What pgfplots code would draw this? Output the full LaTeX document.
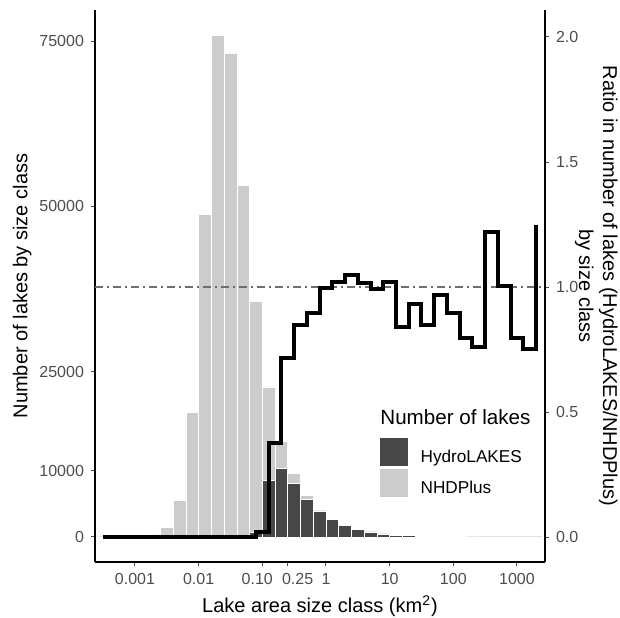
\documentclass[border=0pt]{standalone}
\usepackage{pgfplots}
\usepackage{pgfplotstable}
\pgfplotsset{compat=1.18}
\usepackage{fontspec}
\setmainfont{Liberation Sans}
\definecolor{hydro}{HTML}{474747}
\definecolor{nhd}{HTML}{CCCCCC}
\definecolor{tickgray}{HTML}{4D4D4D}
\definecolor{refline}{HTML}{6E6E6E}

\pgfplotstableread{
logarea nhd hydro
-3.5 0 0
-3.3 0 0
-3.1 0 0
-2.9 60 0
-2.7 300 0
-2.5 1500 0
-2.3 5600 0
-2.1 18900 0
-1.9 48800 0
-1.7 75800 0
-1.5 73200 0
-1.3 53200 0
-1.1 35700 700
-0.9 22700 8500
-0.7 14500 10400
-0.5 9600 8150
-0.3 6300 5650
-0.1 3950 3930
0.1 2650 2700
0.3 1720 1800
0.5 1180 1200
0.7 756 750
0.9 441 450
1.1 345 290
1.3 204 190
1.5 142 120
1.7 83 80
1.9 56 50
2.1 38 30
2.3 25 19
2.5 9 11
2.7 6 6
2.9 5 4
3.1 4 3
3.3 2 2
}\counts

\pgfplotstableread{
logarea ratio
-3.5 0
-3.3 0
-3.1 0
-2.9 0
-2.7 0
-2.5 0
-2.3 0
-2.1 0
-1.9 0
-1.7 0
-1.5 0
-1.3 0
-1.1 0.02
-0.9 0.376
-0.7 0.716
-0.5 0.848
-0.3 0.896
-0.1 0.996
0.1 1.02
0.3 1.048
0.5 1.016
0.7 0.992
0.9 1.02
1.1 0.84
1.3 0.932
1.5 0.848
1.7 0.968
1.9 0.896
2.1 0.796
2.3 0.76
2.5 1.22
2.7 1.004
2.9 0.796
3.1 0.752
3.3 1.248
}\ratiotab

\begin{document}
\begin{tikzpicture}[x=1pt,y=1pt]
\useasboundingbox (0,0) rectangle (310,308.5);
\pgfplotsset{
  base/.style={
    at={(47.5pt,27.5pt)}, anchor=south west,
    width=225pt, height=276pt, scale only axis,
    xmin=-3.628, xmax=3.44,
    tick align=outside, major tick length=2pt,
    every tick/.style={tickgray, line width=0.5pt},
    tick label style={font=\fontsize{8}{9.6}\selectfont, text=tickgray},
    /pgf/number format/assume math mode=true,
    label style={font=\fontsize{10}{12}\selectfont},
    axis line style={line width=1pt},
    scaled ticks=false,
    clip=false,
  }
}
\begin{axis}[base,
  axis x line*=bottom, axis y line*=left,
  ymin=-3790, ymax=79690,
  ytick={0,10000,25000,50000,75000},
  yticklabels={0,10000,25000,50000,75000},
  xtick={-3,-2,-1,-0.60206,0,1,2,3},
  xticklabels={0.001,0.01,0.10\hspace*{5pt},\hspace*{10pt}0.25,1,10,100,1000},
  xlabel={Lake area size class (km\textsuperscript{2})},
  ylabel={Number of lakes by size class},
  xlabel style={at={(axis description cs:0.5,-0.0797)}, anchor=center},
  ylabel style={at={(axis description cs:-0.162,0.5)}, anchor=center},
  reverse legend,
  legend style={at={(axis description cs:0.6333,0.2246)}, anchor=north west,
    draw=none, fill=none, inner sep=0pt, outer sep=0pt, row sep=1.5pt,
    font=\fontsize{8.6}{10}\selectfont,
    nodes={inner sep=0pt}},
  legend cell align=left,
]
\addplot[ybar, bar width=0.2, bar shift=0pt, fill=nhd, draw=white, line width=0.3pt,
  legend image code/.code={\fill[nhd] (0pt,-3.65pt) rectangle (13.5pt,9.85pt); \path (20pt,0pt);}]
  table[x=logarea, y=nhd]{\counts};
\addlegendentry{NHDPlus}
\addplot[ybar, bar width=0.2, bar shift=0pt, fill=hydro, draw=white, line width=0.3pt,
  legend image code/.code={\fill[hydro] (0pt,-3.65pt) rectangle (13.5pt,9.85pt); \path (20pt,0pt);}]
  table[x=logarea, y=hydro]{\counts};
\addlegendentry{HydroLAKES}
\node[anchor=west, inner sep=0pt, font=\fontsize{10.3}{12}\selectfont]
  at (axis description cs:0.6333,0.2627) {Number of lakes};
\end{axis}

\begin{axis}[base,
  axis y line*=right, axis x line=none,
  ymin=-0.1, ymax=2.108,
  ytick={0,0.5,1,1.5,2},
  yticklabels={0.0,0.5,1.0,1.5,2.0},
  ylabel={Ratio in number of lakes (HydroLAKES/NHDPlus)\\by size class},
  ylabel style={at={(axis description cs:1.114,0.5)}, anchor=center, rotate=180, align=center},
]
\addplot[refline, line width=0.8pt, dash pattern=on 4pt off 2pt on 1pt off 2pt]
  coordinates {(-3.628,1) (3.44,1)};
\addplot[const plot, black, line width=2pt] table[x=logarea, y=ratio]{\ratiotab};
\end{axis}
\end{tikzpicture}
\end{document}
